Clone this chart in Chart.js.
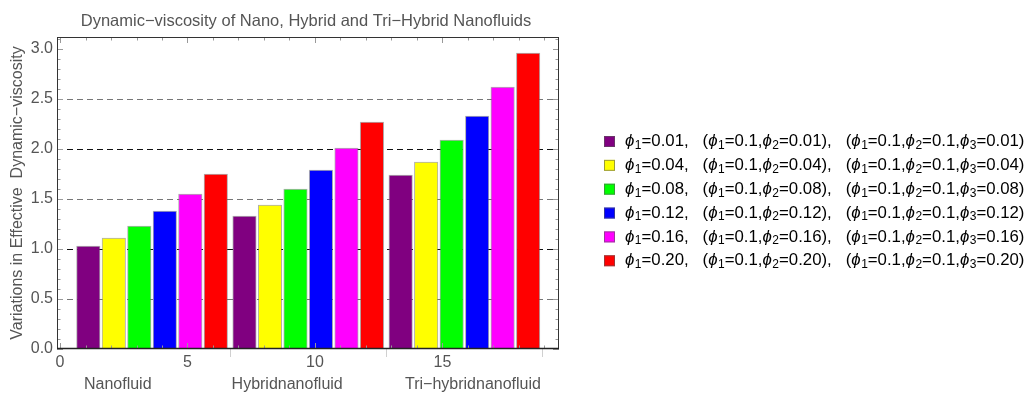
<!DOCTYPE html>
<html>
<head>
<meta charset="utf-8">
<script src="https://cdn.jsdelivr.net/npm/chart.js@4.4.1/dist/chart.umd.min.js"></script>
<style>
  html, body { margin: 0; padding: 0; background: #fff; }
  #wrap { width: 1028px; height: 394px; }
</style>
</head>
<body>
<div id="wrap"><canvas id="viscosityChart" width="1028" height="394"></canvas></div>
<script>
const groups = ['Nanofluid', 'Hybridnanofluid', 'Tri−hybridnanofluid'];
const fractions = ['0.01', '0.04', '0.08', '0.12', '0.16', '0.20'];
const colors = ['#800080', '#ffff00', '#00ff00', '#0000ff', '#ff00ff', '#ff0000'];

// effective dynamic viscosity, one array per volume fraction: [nano, hybrid, tri-hybrid]
const phi001 = [1.03, 1.33, 1.74];
const phi004 = [1.11, 1.44, 1.87];
const phi008 = [1.23, 1.60, 2.09];
const phi012 = [1.38, 1.79, 2.33];
const phi016 = [1.55, 2.01, 2.62];
const phi020 = [1.75, 2.27, 2.96];
const series = [phi001, phi004, phi008, phi012, phi016, phi020];

const xTicks = [0, 5, 10, 15];
const yTicks = [0, 0.5, 1.0, 1.5, 2.0, 2.5, 3.0];

const chartTitle = 'Dynamic−viscosity of Nano, Hybrid and Tri−Hybrid Nanofluids';

const FONT = '"Liberation Sans", Arial, sans-serif';
const GREY = '#555555';

// bar slot on the index axis: one unit per bar, small extra gap between groups
const barX = (g, i) => 1.11 + g * 6.125 + i;
const groupEnds = groups.map((_, g) => barX(g, 5) + 0.56);

const datasets = series.map((vals, k) => ({
  label: 'phi' + fractions[k],
  data: vals.map((v, g) => ({ x: barX(g, k), y: v })),
  backgroundColor: colors[k],
  borderColor: 'rgba(110,110,110,0.55)',
  borderWidth: 1,
  borderSkipped: 'bottom',
  grouped: false,
  barThickness: 23.5
}));

// legend text: "ϕ_1" becomes italic phi with a subscript digit
const legendLines = fractions.map(f =>
  'ϕ_1=' + f + ',   (ϕ_1=0.1,ϕ_2=' + f + '),   (ϕ_1=0.1,ϕ_2=0.1,ϕ_3=' + f + ')');

function drawRich(ctx, text, x, y, size) {
  let i = 0;
  while (i < text.length) {
    const ch = text[i];
    if (ch === 'ϕ') {
      ctx.font = 'italic ' + size + 'px ' + FONT;
      ctx.fillText(ch, x, y);
      x += ctx.measureText(ch).width + 0.5;
      i++;
    } else if (ch === '_') {
      ctx.font = Math.round(size * 0.7) + 'px ' + FONT;
      ctx.fillText(text[i + 1], x, y + 4);
      x += ctx.measureText(text[i + 1]).width;
      i += 2;
    } else {
      let j = i;
      while (j < text.length && text[j] !== 'ϕ' && text[j] !== '_') j++;
      const run = text.slice(i, j);
      ctx.font = size + 'px ' + FONT;
      ctx.fillText(run, x, y);
      x += ctx.measureText(run).width;
      i = j;
    }
  }
}

const legendPlugin = {
  id: 'phiLegend',
  afterDraw(chart) {
    const ctx = chart.ctx;
    ctx.save();
    ctx.textBaseline = 'middle';
    legendLines.forEach((line, k) => {
      const y = 141.5 + k * 23.85;
      ctx.fillStyle = colors[k];
      ctx.fillRect(604, y - 5.5, 11, 11);
      ctx.strokeStyle = 'rgba(90,90,90,0.6)';
      ctx.lineWidth = 1;
      ctx.strokeRect(604.5, y - 5, 10, 10);
      ctx.fillStyle = '#000';
      drawRich(ctx, line, 625, y, 16.8);
    });
    ctx.restore();
  }
};

// title centred over the plot frame rather than the whole canvas
const titlePlugin = {
  id: 'frameTitle',
  afterDraw(chart) {
    const { ctx, chartArea: a } = chart;
    ctx.save();
    ctx.font = '16.5px ' + FONT;
    ctx.fillStyle = GREY;
    ctx.textAlign = 'center';
    ctx.textBaseline = 'middle';
    ctx.fillText(chartTitle, (a.left + a.right) / 2 - 2, 21.5);
    ctx.restore();
  }
};

const framePlugin = {
  id: 'frame',
  afterDatasetsDraw(chart) {
    const { ctx, chartArea: a, scales } = chart;
    const xs = scales.x, ys = scales.y;
    ctx.save();
    ctx.strokeStyle = '#999';
    ctx.lineWidth = 1;
    ctx.beginPath();
    for (let v = 0; v <= 19; v++) {
      const px = Math.round(xs.getPixelForValue(v)) + 0.5;
      const len = v % 5 === 0 ? 6 : 3.5;
      ctx.moveTo(px, a.top); ctx.lineTo(px, a.top + len);
      ctx.moveTo(px, a.bottom); ctx.lineTo(px, a.bottom - len);
    }
    for (let t = 0; t <= 31; t++) {
      const py = Math.round(ys.getPixelForValue(t / 10)) + 0.5;
      const len = t % 5 === 0 ? 6 : 3.5;
      ctx.moveTo(a.left, py); ctx.lineTo(a.left + len, py);
      ctx.moveTo(a.right, py); ctx.lineTo(a.right - len, py);
    }
    ctx.stroke();
    // group separators below the axis
    ctx.strokeStyle = '#d0d0d0';
    ctx.beginPath();
    groupEnds.forEach(v => {
      const px = Math.round(xs.getPixelForValue(v)) + 0.5;
      ctx.moveTo(px, a.bottom); ctx.lineTo(px, a.bottom + 8);
    });
    ctx.stroke();
    ctx.strokeStyle = '#333';
    ctx.lineWidth = 1;
    ctx.strokeRect(a.left + 0.5, a.top + 0.5, a.right - a.left - 1, a.bottom - a.top - 1);
    ctx.strokeStyle = '#222';
    ctx.lineWidth = 1.6;
    ctx.beginPath();
    ctx.moveTo(a.left, a.bottom - 0.5); ctx.lineTo(a.right, a.bottom - 0.5);
    ctx.stroke();
    ctx.restore();
  }
};

new Chart(document.getElementById('viscosityChart'), {
  type: 'bar',
  data: { datasets },
  options: {
    responsive: false,
    animation: false,
    events: [],
    layout: { padding: { left: 0, right: 469, top: 37, bottom: 0 } },
    plugins: {
      legend: { display: false },
      tooltip: { enabled: false },
      title: { display: false }
    },
    scales: {
      x: {
        type: 'linear',
        offset: false,
        min: -0.118,
        max: 19.57,
        afterBuildTicks: s => { s.ticks = xTicks.map(v => ({ value: v })); },
        afterFit: s => { s.height = 45; },
        grid: { display: false, drawTicks: false, offset: false },
        border: { display: false },
        ticks: {
          color: GREY,
          padding: 4,
          maxRotation: 0,
          autoSkip: false,
          font: { family: FONT, size: 16 }
        },
        title: {
          display: true,
          text: '  ' + groups[0] + ' '.repeat(18) + groups[1] + ' '.repeat(14) + groups[2],
          color: GREY,
          font: { family: FONT, size: 16, lineHeight: 1.2 },
          padding: { top: 0, bottom: 0 }
        }
      },
      y: {
        min: 0,
        max: 3.12,
        afterBuildTicks: s => { s.ticks = yTicks.map(v => ({ value: v })); },
        afterFit: s => { s.width = 57; },
        grid: {
          drawTicks: false,
          color: c => {
            const v = c.tick ? c.tick.value : 0;
            if (v === 1 || v === 2) return '#111';
            if (v === 0.5 || v === 1.5 || v === 2.5) return '#777';
            return 'rgba(0,0,0,0)';
          },
          lineWidth: 1
        },
        border: { display: false, dash: [6, 4] },
        ticks: {
          color: GREY,
          padding: 4,
          font: { family: FONT, size: 16 },
          callback: v => v.toFixed(1)
        },
        title: {
          display: true,
          text: 'Variations in Effective  Dynamic−viscosity',
          color: GREY,
          font: { family: FONT, size: 16, lineHeight: 1.2 },
          padding: { top: 8, bottom: 0 }
        }
      }
    }
  },
  plugins: [framePlugin, legendPlugin, titlePlugin]
});
</script>
</body>
</html>
